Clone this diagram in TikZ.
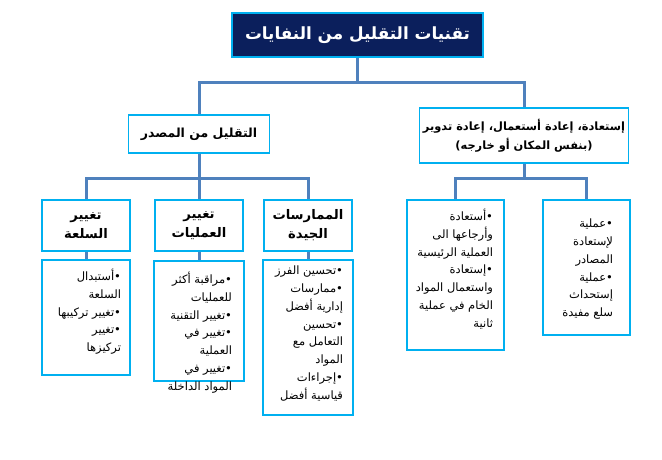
\documentclass[tikz,border=0pt]{standalone}
\usepackage{fontspec}
\TeXXeTstate=1
\newfontfamily\arabicfont[Script=Arabic]{DejaVu Sans}
\newcommand\AR[1]{\beginR #1\endR}
\definecolor{busblue}{HTML}{4F81BD}
\definecolor{boxcyan}{HTML}{00B0F0}
\definecolor{titlenavy}{HTML}{0B1F5C}
\tikzset{
  conn/.style={draw=busblue, line width=3pt},
  hbox/.style={draw=boxcyan, line width=1.8pt, fill=white, inner sep=0pt, align=center},
  cbox/.style={draw=boxcyan, line width=1.8pt, fill=white, inner sep=1pt},
  hfont/.style={font=\arabicfont\bfseries\fontsize{12.5}{19}\selectfont},
  lfont/.style={font=\arabicfont\bfseries\fontsize{13.2}{19}\selectfont},
}
% height, width, top space, right margin, text
\newcommand\ctext[5]{\parbox[c][#1][t]{#2}{\arabicfont\fontsize{11.5}{17.8}\selectfont
  \raggedleft\rightskip=#4\relax\vspace*{#3}#5}}
\begin{document}
\begin{tikzpicture}[x=1pt,y=-1pt]
\useasboundingbox[fill=white] (0,0) rectangle (662,460);
% title
\node[draw=boxcyan, line width=1.2pt, fill=titlenavy, text=white, minimum width=251pt, minimum height=44pt, inner sep=0pt,
  font=\arabicfont\bfseries\fontsize{16.8}{20}\selectfont] (title) at (357.5,35) {\AR{تقنيات التقليل من النفايات}};
% level 2
\node[hbox, hfont, minimum width=141pt, minimum height=38pt] (srcred) at (199,134) {\AR{التقليل من المصدر}};
\node[hbox, font=\arabicfont\bfseries\fontsize{11.4}{19}\selectfont, minimum width=209pt, minimum height=55pt] (recov) at (524,135.5)
  {\AR{إستعادة، إعادة أستعمال، إعادة تدوير}\\\AR{(بنفس المكان أو خارجه)}};
% level 3 headers
\node[hbox, lfont, minimum width=88pt, minimum height=51pt] (l3a) at (86,225.5) {\AR{تغيير}\\\AR{السلعة}};
\node[hbox, lfont, minimum width=88pt, minimum height=51pt] (l3b) at (199,225.5) {\AR{تغيير}\\\AR{العمليات}};
\node[hbox, lfont, minimum width=88pt, minimum height=51pt] (l3c) at (308,225.5) {\AR{الممارسات}\\\AR{الجيدة}};
% content boxes
\node[cbox] (c3a) at (86,317.5) {\ctext{113pt}{86pt}{8pt}{8pt}{%
  \AR{•أستبدال}\\\AR{السلعة}\\\AR{•تغيير تركيبها}\\\AR{•تغيير}\\\AR{تركيزها}}};
\node[cbox] (c3b) at (199,321) {\ctext{118pt}{88pt}{10pt}{11pt}{%
  \AR{•مراقبة أكثر}\\\AR{للعمليات}\\\AR{•تغيير التقنية}\\\AR{•تغيير في}\\\AR{العملية}\\\AR{•تغيير في}\\\AR{المواد الداخلة}}};
\node[cbox] (c3c) at (308,337.5) {\ctext{153pt}{88pt}{5pt}{9pt}{%
  \AR{•تحسين الفرز}\\\AR{•ممارسات}\\\AR{إدارية أفضل}\\\AR{•تحسين}\\\AR{التعامل مع}\\\AR{المواد}\\\AR{•إجراءات}\\\AR{قياسية أفضل}}};
\node[cbox] (r1) at (455.5,275) {\ctext{148pt}{95pt}{8pt}{10pt}{%
  \AR{•أستعادة}\\\AR{وأرجاعها الى}\\\AR{العملية الرئيسية}\\\AR{•إستعادة}\\\AR{واستعمال المواد}\\\AR{الخام في عملية}\\\AR{ثانية}}};
\node[cbox] (r2) at (586.5,267.5) {\ctext{133pt}{85pt}{18pt}{16pt}{%
  \AR{•عملية}\\\AR{لإستعادة}\\\AR{المصادر}\\\AR{•عملية}\\\AR{إستحداث}\\\AR{سلع مفيدة}}};
% connectors
\draw[conn] (title.south) -- ++(0,25) -| (srcred.north);
\draw[conn] (title.south) -- ++(0,25) -| (recov.north);
\draw[conn] (srcred.south) -- ++(0,25) -| (l3a.north);
\draw[conn] (srcred.south) -- ++(0,25) -| (l3c.north);
\draw[conn] (srcred.south) -- (l3b.north);
\draw[conn] (recov.south) -- ++(0,15) -| (r1.north);
\draw[conn] (recov.south) -- ++(0,15) -| (r2.north);
\draw[conn] (l3a.south) -- (c3a.north);
\draw[conn] (l3b.south) -- (c3b.north);
\draw[conn] (l3c.south) -- (c3c.north);
\end{tikzpicture}
\end{document}
